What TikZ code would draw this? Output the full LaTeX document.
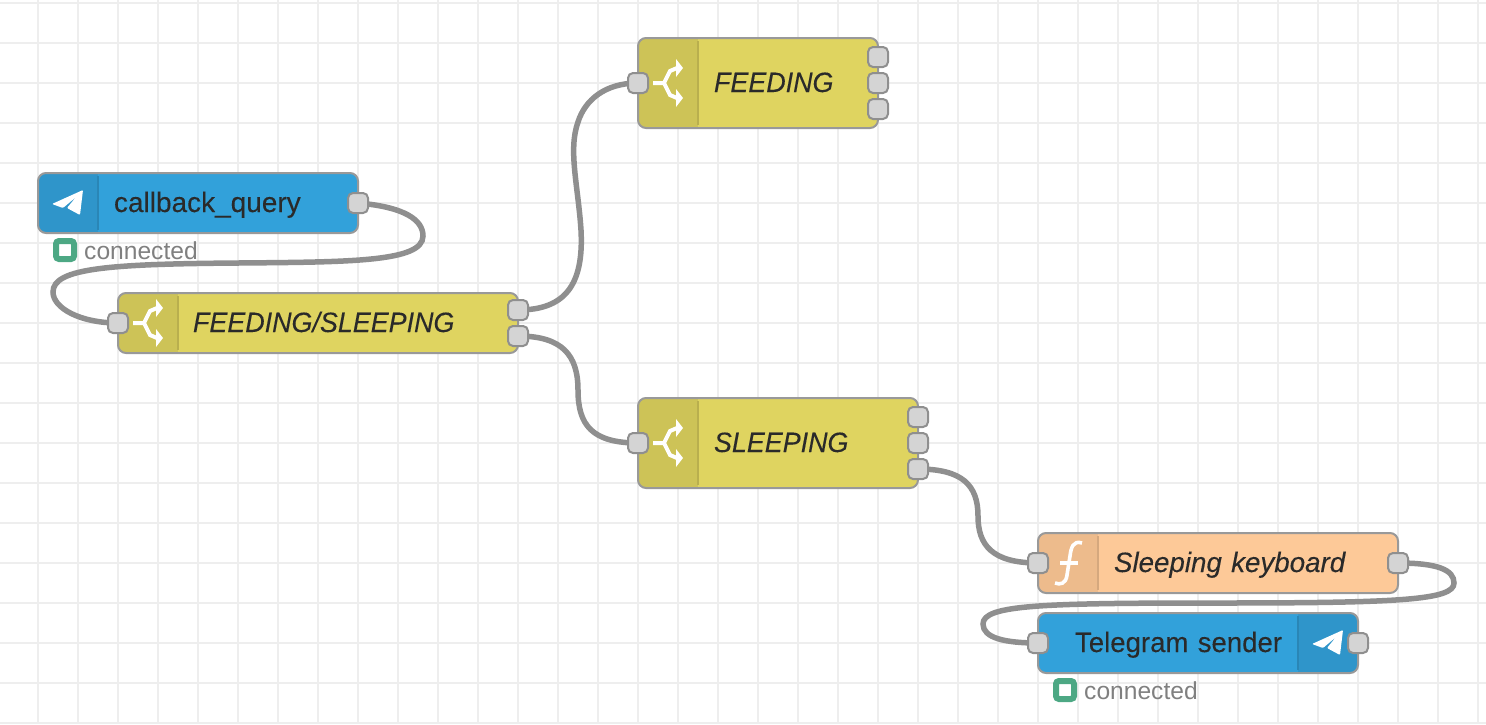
\documentclass[tikz,border=0pt]{standalone}
\usepackage{fontspec}
\setmainfont{Liberation Sans}
\usetikzlibrary{positioning, backgrounds}

\definecolor{gridcol}{HTML}{EEEEEE}
\definecolor{edgecol}{HTML}{999999}
\definecolor{wirecol}{HTML}{8F8F8F}
\definecolor{portcol}{HTML}{D4D4D4}
\definecolor{inkcol}{HTML}{2A2A2A}
\definecolor{statcol}{HTML}{808080}
\definecolor{okcol}{HTML}{4DA884}
\definecolor{tgblue}{HTML}{32A1DA}
\definecolor{tgband}{HTML}{2F95CA}
\definecolor{swyellow}{HTML}{DFD460}
\definecolor{swband}{HTML}{CDC357}
\definecolor{fnorange}{HTML}{FDC998}
\definecolor{fnband}{HTML}{EDBB8C}

\tikzset{
  bandl/.style={path picture={
    \fill[#1, sharp corners] (path picture bounding box.north west) rectangle ([xshift=60pt]path picture bounding box.south west);
    \draw[#1!90!black, line width=1.2pt, sharp corners] ([xshift=60pt,yshift=-3pt]path picture bounding box.north west) -- ([xshift=60pt,yshift=3pt]path picture bounding box.south west);}},
  bandr/.style={path picture={
    \fill[#1, sharp corners] ([xshift=-60pt]path picture bounding box.north east) rectangle (path picture bounding box.south east);
    \draw[#1!90!black, line width=1.2pt, sharp corners] ([xshift=-60pt,yshift=-3pt]path picture bounding box.north east) -- ([xshift=-60pt,yshift=3pt]path picture bounding box.south east);}},
  planeicon/.pic={
    \fill[white, rounded corners=1pt] (-16,1) -- (15,-13) -- (12,12) -- (-1,5) -- (8,-6) -- (-5,5) -- cycle;},
  spliticon/.pic={
    \draw[white, line width=4pt] (-15,0) -- (-4,0) -- (2,-12) -- (9,-15);
    \draw[white, line width=4pt] (-4,0) -- (2,12) -- (9,15);
    \fill[white] (8,-24) -- (15,-15) -- (8,-6) -- cycle;
    \fill[white] (8,6) -- (15,15) -- (8,24) -- cycle;},
  funcicon/.pic={
    \draw[white, line width=3.6pt] (14,-20) .. controls (5,-23) and (3,-15) .. (2,-7) -- (-1,12) .. controls (-2,21) and (-8,22) .. (-13,20);
    \draw[white, line width=3.2pt] (-8,0) -- (10,0);}
}

\begin{document}
\begin{tikzpicture}[x=1pt,y=-1pt]

\tikzstyle{flow}=[draw=edgecol, line width=2pt, shape=rectangle, rounded corners=8pt, inner sep=0pt, outer sep=0pt,
minimum height=60pt, align=left, text=inkcol, text height=19pt, text depth=1pt];
\tikzstyle{port}=[draw=wirecol, line width=2pt, fill=portcol, shape=rectangle, rounded corners=5pt,
inner sep=0pt, outer sep=0pt, minimum size=20pt];
\tikzstyle{wire}=[draw=wirecol, line width=5.5pt];
\tikzstyle{plainfont}=[font=\fontsize{28}{32}\selectfont\addfontfeature{FakeBold=0.12}];
\tikzstyle{spacedfont}=[font=\fontsize{28}{32}\selectfont\addfontfeature{FakeBold=0.12,FakeStretch=0.985}];
\tikzstyle{italfont}=[font=\fontsize{28}{32}\selectfont\itshape\addfontfeature{FakeBold=0.12,FakeStretch=0.99}];
\tikzstyle{capsfont}=[font=\fontsize{28}{32}\selectfont\itshape\addfontfeature{FakeBold=0.12,FakeStretch=0.96}];
\tikzstyle{okbox}=[draw=okcol, line width=6pt, fill=white, shape=rectangle, rounded corners=3pt,
inner sep=0pt, minimum size=18pt];
\tikzstyle{stat}=[anchor=west, inner sep=0pt, text=statcol, font=\fontsize{24.6}{28}\selectfont];

\useasboundingbox (0,0) rectangle (1486,724);

% nodes
\node[flow, plainfont, fill=tgblue, bandl=tgband, text width=320pt] (n1) at (198,203) {\hspace*{76pt}callback\_query};
\node[flow, capsfont, fill=swyellow, bandl=swband, text width=400pt] (n2) at (318,323) {\hspace*{75pt}FEEDING/SLEEPING};
\node[flow, capsfont, fill=swyellow, bandl=swband, text width=240pt, minimum height=90pt] (n3) at (758,83) {\hspace*{76pt}FEEDING};
\node[flow, capsfont, fill=swyellow, bandl=swband, text width=280pt, minimum height=90pt] (n4) at (778,443) {\hspace*{76pt}SLEEPING};
\node[flow, italfont, fill=fnorange, bandl=fnband, text width=360pt] (n5) at (1218,563) {\hspace*{76pt}Sleeping keyboard};
\node[flow, spacedfont, fill=tgblue, bandr=tgband, text width=320pt] (n6) at (1198,643) {\hspace*{37pt}Telegram sender};

% icons
\pic at ([xshift=30pt]n1.west) {planeicon};
\pic at ([xshift=30pt]n2.west) {spliticon};
\pic at ([xshift=30pt]n3.west) {spliticon};
\pic at ([xshift=30pt]n4.west) {spliticon};
\pic at ([xshift=30pt]n5.west) {funcicon};
\pic at ([xshift=-30pt]n6.east) {planeicon};

% ports
\node[port] (p1r) at (n1.east) {};
\node[port] (p2l) at (n2.west) {};
\node[port] (p2a) at ([yshift=13pt]n2.east) {};
\node[port] (p2b) at ([yshift=-13pt]n2.east) {};
\node[port] (p3l) at (n3.west) {};
\node[port] (p3a) at ([yshift=26pt]n3.east) {};
\node[port] (p3b) at (n3.east) {};
\node[port] (p3c) at ([yshift=-26pt]n3.east) {};
\node[port] (p4l) at (n4.west) {};
\node[port] (p4a) at ([yshift=26pt]n4.east) {};
\node[port] (p4b) at (n4.east) {};
\node[port] (p4c) at ([yshift=-26pt]n4.east) {};
\node[port] (p5l) at (n5.west) {};
\node[port] (p5r) at (n5.east) {};
\node[port] (p6l) at (n6.west) {};
\node[port] (p6r) at (n6.east) {};

% status
\node[okbox] (s1) at (65,250) {};
\node[stat] (t1) at (84,250.5) {connected};
\node[okbox] (s2) at (1065,690) {};
\node[stat] (t2) at (1084,690.5) {connected};

% lines
\begin{scope}[on background layer]
\foreach \gx in {38,78,...,1478} \draw[gridcol, line width=2pt] (\gx,0) -- (\gx,724);
\foreach \gy in {3,43,...,723} \draw[gridcol, line width=2pt] (0,\gy) -- (1486,\gy);

\draw[wire] (p1r.center) .. controls (405,207) and (423,220) .. (423,236) .. controls (423,262) and (350,262) .. (238,263) .. controls (110,264) and (53,268) .. (53,292) .. controls (53,308) and (80,323) .. (p2l.center);
\draw[wire] (p2a.center) .. controls (565,310) and (584,285) .. (581,230) .. controls (578,185) and (568,150) .. (578,122) .. controls (585,100) and (605,83) .. (p3l.center);
\draw[wire] (p2b.center) .. controls (562,336) and (578,355) .. (578,390) .. controls (578,425) and (592,443) .. (p4l.center);
\draw[wire] (p4c.center) .. controls (962,469) and (978,485) .. (978,516) .. controls (978,545) and (992,563) .. (p5l.center);
\draw[wire] (p5r.center) .. controls (1438,563) and (1454,570) .. (1454,583) .. controls (1454,600) and (1400,603) .. (1218,603) .. controls (1040,603) and (983,605) .. (983,624) .. controls (983,638) and (1005,643) .. (p6l.center);
\end{scope}

\end{tikzpicture}
\end{document}
